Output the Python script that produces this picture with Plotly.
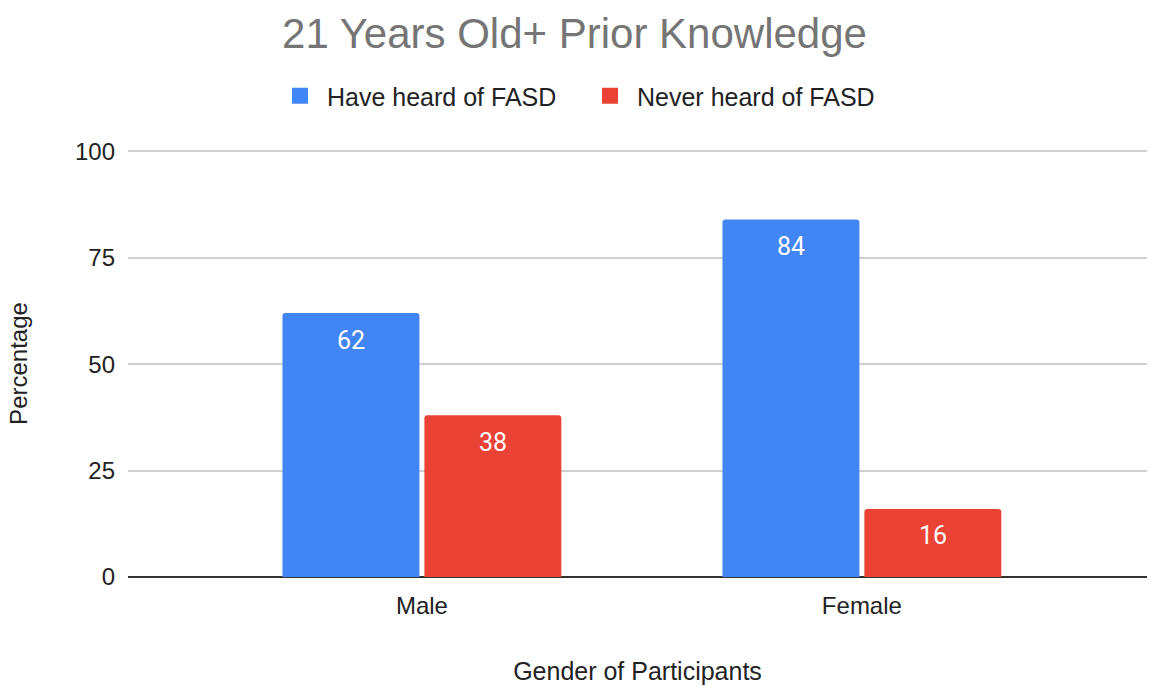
import plotly.graph_objects as go

categories = ["Male", "Female"]
have_heard = [62, 84]
never_heard = [38, 16]
series_names = ["Have heard of FASD", "Never heard of FASD"]
series_colors = ["#4285F4", "#EA4335"]
y_ticks = [0, 25, 50, 75, 100]

FONT = "Arial, Liberation Sans, sans-serif"
BARGAP = 0.355
GROUPGAP = 0.035

fig = go.Figure()
for name, vals, color in zip(series_names, [have_heard, never_heard], series_colors):
    fig.add_trace(go.Bar(
        x=categories, y=vals, name=name, marker_color=color,
        marker_line_width=0, showlegend=False,
    ))
# legend entries with square swatches
for name, color in zip(series_names, series_colors):
    fig.add_trace(go.Scatter(
        x=[None], y=[None], mode="markers", name=name,
        marker=dict(symbol="square", size=22, color=color),
    ))

# value labels inside the top of each bar
plot_w = 1149 - 128 - 2
x_range = [-0.668, 1.648]
cat_px = plot_w / (x_range[1] - x_range[0])
slot_px = cat_px * (1 - BARGAP) / 2
for i, (name, vals) in enumerate(zip(series_names, [have_heard, never_heard])):
    shift = (i - 0.5) * slot_px
    for c, v in zip(categories, vals):
        fig.add_annotation(x=c, y=v, text=str(v), showarrow=False,
                           xshift=shift, yshift=-27, yanchor="middle",
                           font=dict(family="Roboto", size=25, color="white"))

fig.update_layout(
    width=1149, height=686,
    margin=dict(l=128, r=2, t=150, b=109),
    paper_bgcolor="white", plot_bgcolor="white",
    barmode="group", bargap=BARGAP, bargroupgap=GROUPGAP,
    barcornerradius=3,
    title=dict(text="21 Years Old+ Prior Knowledge", x=0.5, xanchor="center",
               y=1 - 33/686, yanchor="middle",
               font=dict(family=FONT, size=42, color="#757575")),
    legend=dict(orientation="h", x=(283 - 128 - 10) / plot_w, xanchor="left",
                y=1.0 + 54/427, yanchor="middle",
                entrywidth=251, entrywidthmode="pixels",
                font=dict(family=FONT, size=25, color="#222222"),
                itemwidth=44, traceorder="normal"),
    font=dict(family=FONT, color="#222222"),
)
fig.update_xaxes(range=x_range, showgrid=False, ticks="", automargin=False,
                 tickfont=dict(family=FONT, size=24, color="#222222"), ticklabelstandoff=12,
                 title=dict(text="Gender of Participants", font=dict(family=FONT, size=25, color="#222222"), standoff=44),
                 showline=False, zeroline=False)
fig.update_yaxes(range=[0, 100.3], tickvals=y_ticks, showgrid=True, gridcolor="#d0d0d0", gridwidth=1.5,
                 zeroline=True, zerolinecolor="#333333", zerolinewidth=1.5, automargin=False,
                 tickfont=dict(family=FONT, size=24, color="#222222"), ticks="", ticklabelstandoff=12,
                 title=dict(text="Percentage", font=dict(family=FONT, size=24, color="#222222"), standoff=40))

fig.write_html("out.html", config={"displayModeBar": False},
               post_script="document.body.style.margin='0';")
